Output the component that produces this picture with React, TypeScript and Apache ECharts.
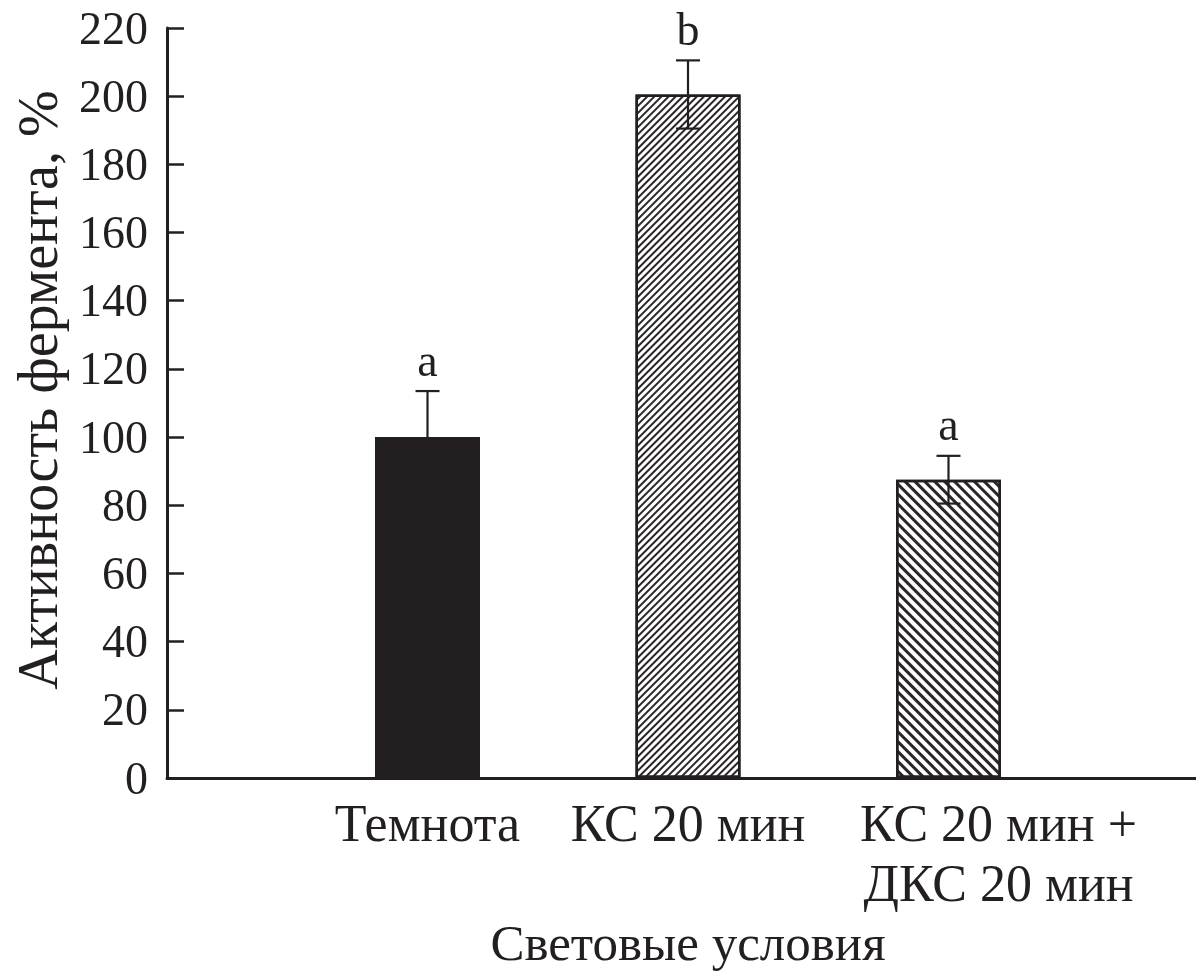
import React, { useEffect, useRef } from "react";
import * as echarts from "echarts";

const categories = ["", "Темнота", "КС 20 мин", "КС 20 мин +\nДКС 20 мин", ""];
const values = [null, 100, 200.5, 87.5, null];
const errors = [null, 13.5, 10, 7, null];
const letters = ["", "a", "b", "a", ""];
const yTicks = { min: 0, max: 220, interval: 20 };
const yTitle = "Активность фермента, %";
const xTitle = "Световые условия";

const FONT = "'Liberation Serif', 'Times New Roman', serif";
const INK = "#231f20";

export default function App() {
  const ref = useRef<HTMLDivElement>(null);
  useEffect(() => {
    document.body.style.margin = "0";
    const chart = echarts.init(ref.current!, undefined, { renderer: "svg" });
    const barData = values.map((v, i) => {
      if (v === null) return { value: "-" };
      if (i === 1) return { value: v, itemStyle: { color: INK } };
      return {
        value: v,
        itemStyle: {
          color: "#ffffff",
          decal: {
            symbol: "rect",
            symbolSize: 1,
            dashArrayX: [1, 0],
            dashArrayY: i === 2 ? [1.6, 2.8] : [2.2, 3.2],
            rotation: i === 2 ? -Math.PI / 4 : Math.PI / 4,
            color: "#2a2627",
            backgroundColor: "#ffffff",
          },
        },
      };
    });
    const catData = categories.map((c, i) =>
      i === 3 ? { value: c, textStyle: { padding: [0, 0, 0, 100] } } : c
    );
    const errData = values
      .map((v, i) => (v === null ? null : [i, v - (errors[i] as number), v + (errors[i] as number), i]))
      .filter((d) => d !== null);
    chart.setOption({
      animation: false,
      grid: { left: 167, right: -13, top: 28, bottom: 195, containLabel: false, outerBoundsMode: "none" },
      graphic: [
        {
          type: "text",
          x: 38,
          y: 390,
          rotation: Math.PI / 2,
          style: {
            text: yTitle,
            fill: INK,
            font: `56px ${FONT}`,
            textAlign: "center",
            textVerticalAlign: "middle",
          },
        },
      ],
      xAxis: {
        type: "category",
        data: catData,
        boundaryGap: false,
        axisLine: { lineStyle: { color: INK, width: 3 } },
        axisTick: { show: false },
        axisLabel: {
          interval: 0,
          color: INK,
          fontFamily: FONT,
          fontSize: 52,
          lineHeight: 60,
          margin: 15,
        },
        name: xTitle,
        nameLocation: "middle",
        nameGap: 136,
        nameTextStyle: { color: INK, fontFamily: FONT, fontSize: 51 },
      },
      yAxis: {
        type: "value",
        min: yTicks.min,
        max: yTicks.max,
        interval: yTicks.interval,
        splitLine: { show: false },
        axisLine: { show: true, lineStyle: { color: INK, width: 3 } },
        axisTick: { show: true, inside: true, length: 17, lineStyle: { color: INK, width: 2.5 } },
        axisLabel: { color: INK, fontFamily: FONT, fontSize: 46, margin: 19 },
      },
      series: [
        {
          type: "bar",
          data: barData,
          barWidth: 105,
          itemStyle: { borderColor: INK, borderWidth: 2.5 },
        },
        {
          type: "custom",
          data: errData,
          z: 5,
          renderItem: (params: any, api: any) => {
            const idx = api.value(0);
            const lo = api.coord([idx, api.value(1)]);
            const hi = api.coord([idx, api.value(2)]);
            const half = 12;
            const style = { stroke: INK, lineWidth: 2.2 };
            return {
              type: "group",
              children: [
                { type: "line", shape: { x1: hi[0], y1: hi[1], x2: lo[0], y2: lo[1] }, style },
                { type: "line", shape: { x1: hi[0] - half, y1: hi[1], x2: hi[0] + half, y2: hi[1] }, style },
                { type: "line", shape: { x1: lo[0] - half, y1: lo[1], x2: lo[0] + half, y2: lo[1] }, style },
                {
                  type: "text",
                  x: hi[0],
                  y: hi[1] - 8,
                  style: {
                    text: letters[api.value(3)],
                    fill: INK,
                    font: `46px ${FONT}`,
                    textAlign: "center",
                    textVerticalAlign: "bottom",
                  },
                },
              ],
            };
          },
        },
      ],
    });
    return () => chart.dispose();
  }, []);
  return <div ref={ref} style={{ width: 1196, height: 973, position: "fixed", left: 0, top: 0 }} />;
}
